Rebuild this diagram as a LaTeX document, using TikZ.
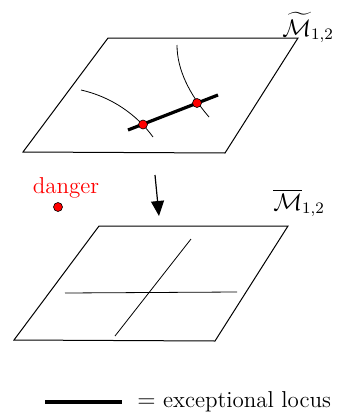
\documentclass[tikz,border=0pt]{standalone}
\usepackage{amsmath,amssymb}
\usetikzlibrary{arrows.meta}
\begin{document}
\begin{tikzpicture}[x=0.5pt,y=-0.5pt,
  plane/.style={draw=black,line width=0.5pt,line join=miter},
  curve/.style={draw=black,line width=0.4pt},
  exc/.style={draw=black,line width=1.6pt},
  reddot/.style={circle,fill=red,draw=black,line width=0.3pt,inner sep=0pt,minimum size=4.5pt},
  lab/.style={inner sep=0pt,font=\fontsize{11.5}{14}\selectfont}]
\useasboundingbox (0,0) rectangle (337,412);
% upper plane
\coordinate (a1) at (108,38);
\coordinate (a2) at (298,38);
\coordinate (a3) at (225,153);
\coordinate (a4) at (23,152);
\draw[plane] (a1) -- (a2) -- (a3) -- (a4) -- cycle;
\coordinate (c1s) at (81,90);
\coordinate (c1e) at (153,137);
\coordinate (c2s) at (177,45);
\coordinate (c2e) at (209,117);
\draw[curve] (c1s) .. controls (112,97) and (137,115) .. (c1e);
\draw[curve] (c2s) .. controls (177,70) and (190,95) .. (c2e);
\coordinate (e1) at (128,130);
\coordinate (e2) at (218,95);
\draw[exc] (e1) -- (e2);
\node[reddot] (p1) at (143,124.5) {};
\node[reddot] (p2) at (197,103) {};
\node[lab,anchor=base west] (mt) at (282,36) {$\widetilde{\mathcal{M}}_{1,2}$};
% arrow
\coordinate (ar1) at (155,175);
\coordinate (ar2) at (159,216);
\draw[line width=0.6pt,-{Triangle[length=7.5pt,width=6.5pt]}] (ar1) -- (ar2);
% danger
\node[lab,text=red,anchor=base] (dg) at (66,193) {danger};
\node[reddot] (dd) at (58,207) {};
% lower plane
\coordinate (b1) at (99,226);
\coordinate (b2) at (288,226);
\coordinate (b3) at (215,341);
\coordinate (b4) at (14,340);
\draw[plane] (b1) -- (b2) -- (b3) -- (b4) -- cycle;
\coordinate (h1) at (65,293);
\coordinate (h2) at (237,292);
\coordinate (d1) at (191,239);
\coordinate (d2) at (115,336);
\draw[curve] (h1) -- (h2);
\draw[curve] (d1) -- (d2);
\node[lab,anchor=base west] (mb) at (273,210) {$\overline{\mathcal{M}}_{1,2}$};
% legend
\coordinate (l1) at (45,402);
\coordinate (l2) at (122,402);
\draw[exc] (l1) -- (l2);
\node[lab,anchor=west] (lt) at (137,402) {$=$ exceptional locus};
\end{tikzpicture}
\end{document}
